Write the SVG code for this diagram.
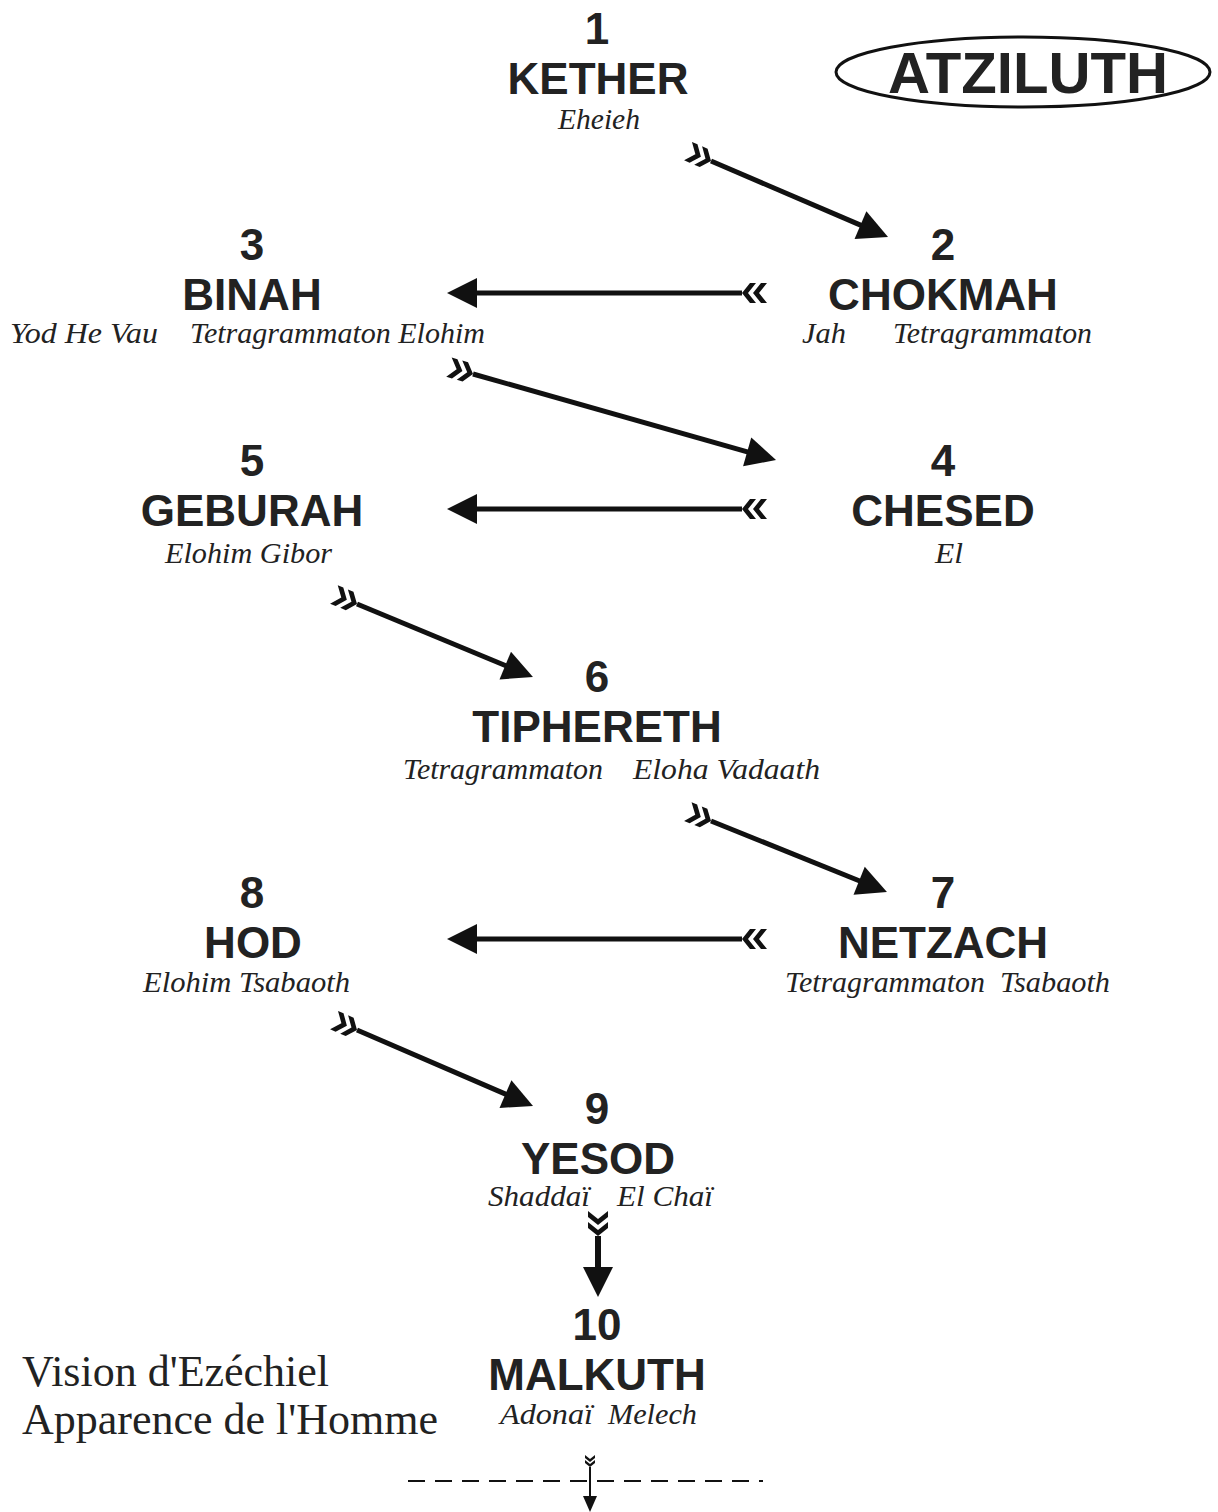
<svg xmlns="http://www.w3.org/2000/svg" width="1218" height="1512" viewBox="0 0 1218 1512">
<style>
.num,.name{font-family:"Liberation Sans",Arial,sans-serif;font-weight:bold;font-size:44px;fill:#222;text-anchor:middle}
.dn{font-family:"Liberation Serif","Times New Roman",serif;font-style:italic;font-size:30px;fill:#222}
.note{font-family:"Liberation Serif","Times New Roman",serif;font-size:44px;fill:#222}
.arr{fill:none;stroke:#111;stroke-width:5;marker-start:url(#fletch);marker-end:url(#head)}
</style>
<defs>
<marker id="head" markerUnits="userSpaceOnUse" overflow="visible" orient="auto" refX="2" refY="0" markerWidth="1" markerHeight="1"><path d="M0,-15 L30,0 L0,15 z" fill="#111"/></marker>
<marker id="fletch" markerUnits="userSpaceOnUse" overflow="visible" orient="auto" refX="0" refY="0" markerWidth="1" markerHeight="1"><path d="M0,0 L-8,-10 L-14,-10 L-6,0 L-14,10 L-8,10 z M-11,0 L-19,-10 L-25,-10 L-17,0 L-25,10 L-19,10 z" fill="#111"/></marker>
<marker id="headS" markerUnits="userSpaceOnUse" overflow="visible" orient="auto" refX="1" refY="0" markerWidth="1" markerHeight="1"><path d="M0,-7 L16,0 L0,7 z" fill="#111"/></marker>
<marker id="fletchS" markerUnits="userSpaceOnUse" overflow="visible" orient="auto" refX="0" refY="0" markerWidth="1" markerHeight="1"><path d="M0,0 L-4,-5 L-7,-5 L-3,0 L-7,5 L-4,5 z M-5,0 L-9,-5 L-12,-5 L-8,0 L-12,5 L-9,5 z" fill="#111"/></marker>
</defs>

<g id="atziluth">
<ellipse cx="1023" cy="72" rx="187" ry="35" fill="none" stroke="#111" stroke-width="3"/>
<text x="1028" y="93" textLength="280" lengthAdjust="spacingAndGlyphs" style="font-family:'Liberation Sans',Arial,sans-serif;font-weight:bold;font-size:57px;fill:#222;text-anchor:middle">ATZILUTH</text>
</g>

<g id="n1-kether">
<text class="num" x="597" y="44">1</text>
<text class="name" x="598" y="94">KETHER</text>
<text class="dn" x="558" y="129" textLength="82" lengthAdjust="spacingAndGlyphs">Eheieh</text>
</g>

<g id="n2-chokmah">
<text class="num" x="943" y="260">2</text>
<text class="name" x="943" y="310">CHOKMAH</text>
<text class="dn" x="802" y="343" textLength="44" lengthAdjust="spacingAndGlyphs">Jah</text>
<text class="dn" x="893" y="343" textLength="199" lengthAdjust="spacingAndGlyphs">Tetragrammaton</text>
</g>

<g id="n3-binah">
<text class="num" x="252" y="260">3</text>
<text class="name" x="252" y="310">BINAH</text>
<text class="dn" x="10" y="343" textLength="148" lengthAdjust="spacingAndGlyphs">Yod He Vau</text>
<text class="dn" x="190" y="343" textLength="295" lengthAdjust="spacingAndGlyphs">Tetragrammaton Elohim</text>
</g>

<g id="n4-chesed">
<text class="num" x="943" y="476">4</text>
<text class="name" x="943" y="526">CHESED</text>
<text class="dn" x="935" y="563" textLength="28" lengthAdjust="spacingAndGlyphs">El</text>
</g>

<g id="n5-geburah">
<text class="num" x="252" y="476">5</text>
<text class="name" x="252" y="526">GEBURAH</text>
<text class="dn" x="165" y="563" textLength="167" lengthAdjust="spacingAndGlyphs">Elohim Gibor</text>
</g>

<g id="n6-tiphereth">
<text class="num" x="597" y="692">6</text>
<text class="name" x="597" y="742">TIPHERETH</text>
<text class="dn" x="403" y="779" textLength="200" lengthAdjust="spacingAndGlyphs">Tetragrammaton</text>
<text class="dn" x="633" y="779" textLength="187" lengthAdjust="spacingAndGlyphs">Eloha Vadaath</text>
</g>

<g id="n7-netzach">
<text class="num" x="943" y="908">7</text>
<text class="name" x="943" y="958">NETZACH</text>
<text class="dn" x="785" y="992" textLength="200" lengthAdjust="spacingAndGlyphs">Tetragrammaton</text>
<text class="dn" x="1000" y="992" textLength="110" lengthAdjust="spacingAndGlyphs">Tsabaoth</text>
</g>

<g id="n8-hod">
<text class="num" x="252" y="908">8</text>
<text class="name" x="253" y="958">HOD</text>
<text class="dn" x="143" y="992" textLength="207" lengthAdjust="spacingAndGlyphs">Elohim Tsabaoth</text>
</g>

<g id="n9-yesod">
<text class="num" x="597" y="1124">9</text>
<text class="name" x="598" y="1174">YESOD</text>
<text class="dn" x="488" y="1206" textLength="102" lengthAdjust="spacingAndGlyphs">Shaddaï</text>
<text class="dn" x="617" y="1206" textLength="96" lengthAdjust="spacingAndGlyphs">El Chaï</text>
</g>

<g id="n10-malkuth">
<text class="num" x="597" y="1340">10</text>
<text class="name" x="597" y="1390">MALKUTH</text>
<text class="dn" x="500" y="1424" textLength="93" lengthAdjust="spacingAndGlyphs">Adonaï</text>
<text class="dn" x="608" y="1424" textLength="89" lengthAdjust="spacingAndGlyphs">Melech</text>
</g>

<g id="caption">
<text class="note" x="22" y="1386">Vision d'Ezéchiel</text>
<text class="note" x="22" y="1434">Apparence de l'Homme</text>
</g>

<g id="connectors">
<path class="arr" d="M711,161 L862.3,225.9"/>
<path class="arr" d="M742,293 L475,293"/>
<path class="arr" d="M473,374 L749.1,452.4"/>
<path class="arr" d="M742,509 L475,509"/>
<path class="arr" d="M357,604 L507.1,666.3"/>
<path class="arr" d="M711,821 L861,881.5"/>
<path class="arr" d="M742,939 L475,939"/>
<path class="arr" d="M357,1030 L507.3,1094.9"/>
<path class="arr" style="stroke-width:6" d="M598,1236 L598,1269"/>
<line x1="408" y1="1481" x2="763" y2="1481" stroke="#111" stroke-width="2" stroke-dasharray="17 10"/>
<path d="M590,1467 L590,1497" fill="none" stroke="#111" stroke-width="2" marker-start="url(#fletchS)" marker-end="url(#headS)"/>
</g>
</svg>
